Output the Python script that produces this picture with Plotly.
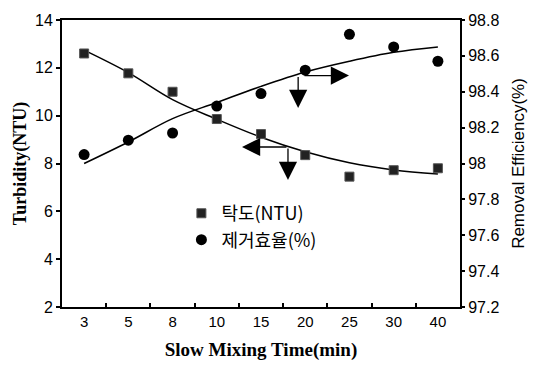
import plotly.graph_objects as go

categories = ["3", "5", "8", "10", "15", "20", "25", "30", "40"]
turbidity = [12.6, 11.77, 11.0, 9.86, 9.23, 8.35, 7.45, 7.72, 7.8]
efficiency = [98.05, 98.13, 98.17, 98.32, 98.39, 98.52, 98.72, 98.65, 98.57]
turbidity_fit = [12.74, 11.8, 10.67, 9.85, 9.1, 8.49, 8.03, 7.73, 7.56]
efficiency_fit = [98.0, 98.12, 98.25, 98.34, 98.43, 98.51, 98.57, 98.62, 98.65]
left_ticks = [2, 4, 6, 8, 10, 12, 14]
right_ticks = [97.2, 97.4, 97.6, 97.8, 98.0, 98.2, 98.4, 98.6, 98.8]

xi = list(range(len(categories)))
narrow = "Liberation Sans Narrow, Arial Narrow, Liberation Sans, sans-serif"
serif = "Liberation Serif, Times New Roman, serif"
cjk = "Noto Sans CJK KR, Liberation Sans, sans-serif"

fig = go.Figure()
fig.add_trace(go.Scatter(x=xi, y=turbidity_fit, mode="lines", line=dict(color="black", width=1.5, shape="spline"),
                         showlegend=False, hoverinfo="skip"))
fig.add_trace(go.Scatter(x=xi, y=efficiency_fit, mode="lines", line=dict(color="black", width=1.5, shape="spline"),
                         showlegend=False, hoverinfo="skip", yaxis="y2"))
fig.add_trace(go.Scatter(x=xi, y=turbidity, mode="markers", name="탁도(NTU)",
                         marker=dict(symbol="square", size=9, color="#222", line=dict(color="#555", width=1))))
fig.add_trace(go.Scatter(x=xi, y=efficiency, mode="markers", name="제거효율(%)", yaxis="y2",
                         marker=dict(symbol="circle", size=11, color="black")))

arrow = dict(showarrow=True, arrowhead=2, arrowsize=2.8, arrowwidth=1.3, arrowcolor="black",
             standoff=0, startstandoff=0, text="")
# turbidity arrows (left axis)
fig.add_annotation(x=3.57, y=8.69, ax=4.61, ay=8.69, xref="x", yref="y", axref="x", ayref="y", **arrow)
fig.add_annotation(x=4.61, y=7.31, ax=4.61, ay=8.69, xref="x", yref="y", axref="x", ayref="y", **arrow)
# efficiency arrows (right axis)
fig.add_annotation(x=5.99, y=98.49, ax=4.95, ay=98.49, xref="x", yref="y2", axref="x", ayref="y2", **arrow)
fig.add_annotation(x=4.84, y=98.31, ax=4.84, ay=98.49, xref="x", yref="y2", axref="x", ayref="y2", **arrow)

fig.update_layout(
    width=538, height=372,
    margin=dict(l=62, r=78, t=20, b=65),
    paper_bgcolor="white", plot_bgcolor="white",
    showlegend=True,
    legend=dict(x=0.3, y=0.39, xanchor="left", yanchor="top", bgcolor="rgba(0,0,0,0)",
                font=dict(family=cjk, size=18, color="black"), itemsizing="trace",
                tracegroupgap=0),
    xaxis=dict(range=[-0.5, 8.5], tickmode="array", tickvals=xi, ticktext=categories,
               ticks="", showgrid=False, zeroline=False,
               showline=True, linecolor="black", linewidth=2, mirror=True,
               tickfont=dict(family=narrow, size=15, color="black"),
               minor=dict(tickvals=[i + 0.5 for i in xi[:-1]], ticks="inside", ticklen=4,
                          tickcolor="black", tickwidth=2, showgrid=False),
               title=dict(text="<b>Slow Mixing Time(min)</b>", font=dict(family=serif, size=19, color="black"),
                          standoff=14)),
    yaxis=dict(range=[2, 14], tickvals=left_ticks, ticks="outside", ticklen=4, tickwidth=2, tickcolor="black",
               showgrid=False, zeroline=False, showline=True, linecolor="black", linewidth=2,
               tickfont=dict(family=narrow, size=16, color="black"),
               title=dict(text="<b>Turbidity(NTU)</b>", font=dict(family=serif, size=18, color="black"),
                          standoff=4)),
    yaxis2=dict(range=[97.2, 98.8], tickvals=right_ticks, ticktext=[f"{v:g}" if v != 98.0 else "98" for v in right_ticks],
                overlaying="y", side="right",
                ticks="outside", ticklen=3, tickwidth=2, tickcolor="black",
                showgrid=False, zeroline=False, showline=True, linecolor="black", linewidth=2,
                tickfont=dict(family=narrow, size=16, color="black"),
                title=dict(text="Removal Efficiency(%)", font=dict(family="Liberation Sans, Arial, sans-serif", size=17, color="black"),
                           standoff=14)),
)

fig.write_html("out.html")
